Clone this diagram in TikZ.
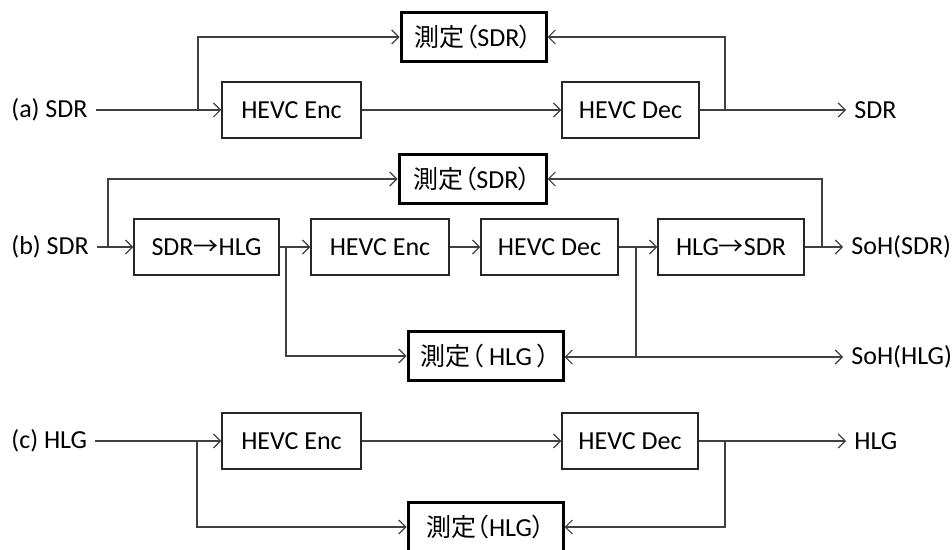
\documentclass[tikz,border=0pt]{standalone}
\usepackage{fontspec}
\setmainfont{Carlito}
\newfontfamily\cjk[RawFeature=+palt]{Noto Sans CJK JP}
\usetikzlibrary{arrows.meta}
\newcommand{\jp}[1]{{\cjk\fontsize{12.5}{14}\selectfont #1}}

\begin{document}
\begin{tikzpicture}[x=0.5pt,y=-0.5pt,
    font=\fontsize{13}{15}\selectfont,
    blk/.style={draw=black!85, line width=0.75pt, inner sep=0pt,
                minimum width=#1*0.5pt, minimum height=28pt},
    blk/.default=138,
    meas/.style={draw=black, line width=1.5pt, inner sep=0pt,
                 minimum width=#1*0.5pt, minimum height=24.5pt},
    meas/.default=146,
    lbl/.style={anchor=west, inner sep=4pt},
    arr/.style={draw=black!75, line width=0.6pt,
                -{Straight Barb[length=3.5pt,width=7pt]}},
    ln/.style={draw=black!75, line width=0.6pt}]
    \useasboundingbox (0,0) rectangle (952,550);

    % (a)
    \node[lbl] (aIn) at (3,110) {(a) SDR};
    \node[blk=139] (aEnc) at (291.5,110) {HEVC Enc};
    \node[blk=137] (aDec) at (630.5,110) {HEVC Dec};
    \node[meas=145] (aMeas) at (473.5,37) {\jp{測定（}SDR\jp{）}};
    \node[lbl] (aOut) at (846,110) {SDR};
    \coordinate (aSplit) at (198,110);
    \coordinate (aJoin) at (725,110);
    \draw[arr] (aIn) -- (aEnc);
    \draw[arr] (aEnc) -- (aDec);
    \draw[arr] (aDec) -- (aOut);
    \draw[arr] (aSplit) |- (aMeas.west);
    \draw[arr] (aJoin) |- (aMeas.east);

    % (b)
    \node[lbl] (bIn) at (3,247) {(b) SDR};
    \node[blk=145] (bS2H) at (206.5,247) {SDR\jp{→}HLG};
    \node[blk=138] (bEnc) at (380,247) {HEVC Enc};
    \node[blk=137] (bDec) at (549.5,247) {HEVC Dec};
    \node[blk=146] (bH2S) at (731,247) {HLG\jp{→}SDR};
    \node[meas=147] (bMeasS) at (472.5,179) {\jp{測定（}SDR\jp{）}};
    \node[meas=155] (bMeasH) at (485.5,356) {\jp{測定（} HLG \jp{）}};
    \node[lbl] (bOutS) at (843,247) {SoH(SDR)};
    \node[lbl] (bOutH) at (843,357) {SoH(HLG)};
    \coordinate (bSplit) at (108,247);
    \coordinate (bJoin) at (822,247);
    \coordinate (bTapH) at (286,247);
    \coordinate (bTapD) at (636,247);
    \coordinate (bCross) at (636,357);
    \draw[arr] (bIn) -- (bS2H);
    \draw[arr] (bS2H) -- (bEnc);
    \draw[arr] (bEnc) -- (bDec);
    \draw[arr] (bDec) -- (bH2S);
    \draw[arr] (bH2S) -- (bOutS);
    \draw[arr] (bSplit) |- (bMeasS.west);
    \draw[arr] (bJoin) |- (bMeasS.east);
    \draw[arr] (bTapH) |- (bMeasH.west);
    \draw[ln] (bTapD) -- (bCross);
    \draw[arr] (bCross) -- (bMeasH.east |- bCross);
    \draw[arr] (bCross) -- (bOutH);

    % (c)
    \node[lbl] (cIn) at (3,441) {(c) HLG};
    \node[blk=139] (cEnc) at (291.5,441) {HEVC Enc};
    \node[blk=136] (cDec) at (630,441) {HEVC Dec};
    \node[meas=155] (cMeas) at (485.5,527) {\jp{測定（}HLG\jp{）}};
    \node[lbl] (cOut) at (846,441) {HLG};
    \coordinate (cSplit) at (197,441);
    \coordinate (cJoin) at (725,441);
    \draw[arr] (cIn) -- (cEnc);
    \draw[arr] (cEnc) -- (cDec);
    \draw[arr] (cDec) -- (cOut);
    \draw[arr] (cSplit) |- (cMeas.west);
    \draw[arr] (cJoin) |- (cMeas.east);
\end{tikzpicture}
\end{document}
